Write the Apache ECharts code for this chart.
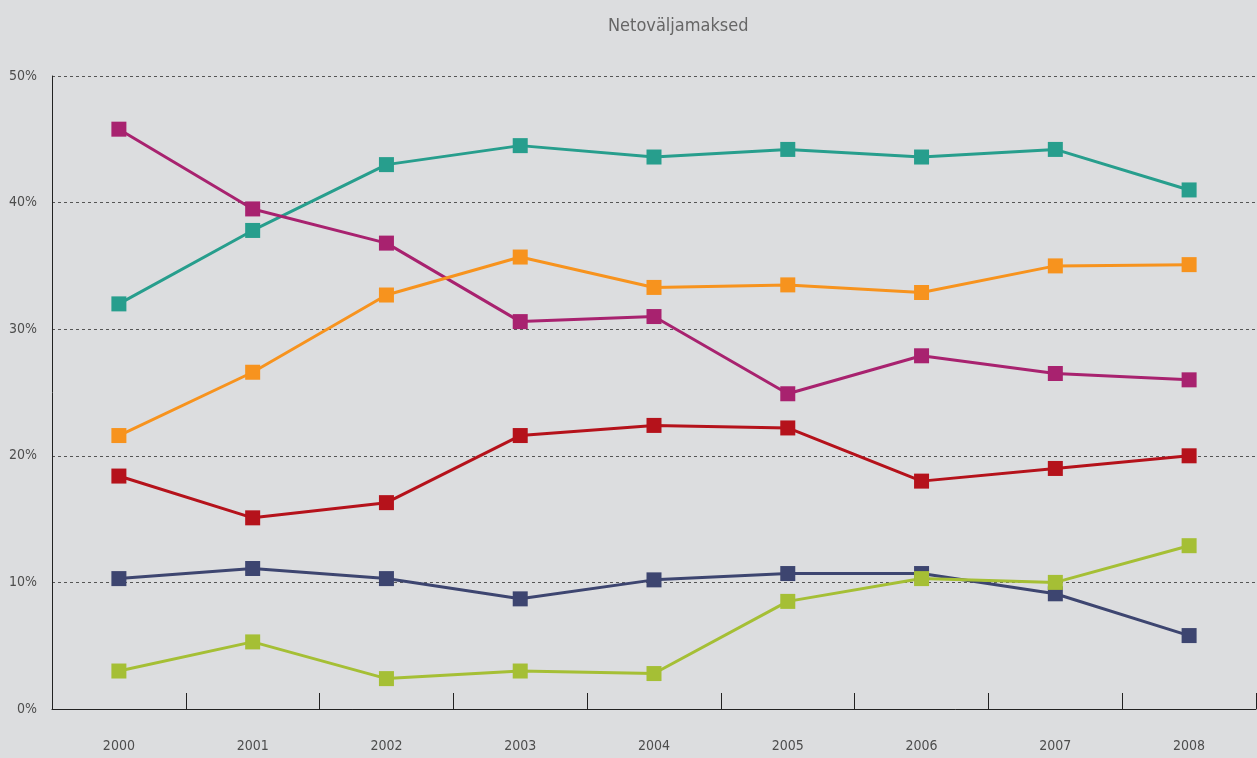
<!DOCTYPE html>
<html>
<head>
    <meta charset="utf-8" />
    <title>Netoväljamaksed</title>
    <script src="https://cdn.jsdelivr.net/npm/echarts@6/dist/echarts.min.js"></script>
    <style>
        html, body { margin: 0; padding: 0; background: #dcdddf; }
    </style>
</head>
<body>
    <div id="main" style="width: 1257px;height:758px;"></div>

    <script type="text/javascript">
        // andmed (loetud pildilt)
        var years = ['2000', '2001', '2002', '2003', '2004', '2005', '2006', '2007', '2008'];
        var teal    = [32.0, 37.8, 43.0, 44.5, 43.6, 44.2, 43.6, 44.2, 41.0];
        var magenta = [45.8, 39.5, 36.8, 30.6, 31.0, 24.9, 27.9, 26.5, 26.0];
        var orange  = [21.6, 26.6, 32.7, 35.7, 33.3, 33.5, 32.9, 35.0, 35.1];
        var red     = [18.4, 15.1, 16.3, 21.6, 22.4, 22.2, 18.0, 19.0, 20.0];
        var navy    = [10.3, 11.1, 10.3, 8.7, 10.2, 10.7, 10.7, 9.1, 5.8];
        var lime    = [3.0, 5.3, 2.4, 3.0, 2.8, 8.5, 10.3, 10.0, 12.9];

        var font = '"DejaVu Sans Condensed", "Liberation Sans Narrow", sans-serif';

        function line(data, color) {
            return {
                type: 'line',
                data: data,
                symbol: 'rect',
                symbolSize: 15,
                lineStyle: { color: color, width: 3 },
                itemStyle: { color: color },
                z: 3
            };
        }

        var myChart = echarts.init(document.getElementById('main'));

        var option = {
            backgroundColor: '#dcdddf',
            animation: false,
            title: {
                text: 'Netoväljamaksed',
                left: 603,
                top: 12,
                textStyle: { fontFamily: font, fontSize: 18, fontWeight: 'normal', color: '#666' }
            },
            grid: { left: 52, right: 1, top: 76, bottom: 49, containLabel: false },
            xAxis: {
                type: 'category',
                data: years,
                boundaryGap: true,
                axisLine: { lineStyle: { color: '#222', width: 1 } },
                axisTick: { show: true, interval: 0, inside: true, length: 16, lineStyle: { color: '#222', width: 1 } },
                axisLabel: { margin: 30, fontFamily: font, fontSize: 14, color: '#4d4d4d' }
            },
            yAxis: {
                type: 'value',
                min: 0,
                max: 50,
                interval: 10,
                axisLine: { show: true, lineStyle: { color: '#222' } },
                axisTick: { show: false },
                axisLabel: { margin: 15, fontFamily: font, fontSize: 14, color: '#4d4d4d', formatter: '{value}%' },
                splitLine: { lineStyle: { color: '#555', type: [3, 3], width: 1 } }
            },
            series: [
                line(teal, '#279e8d'),
                line(magenta, '#a8226f'),
                line(orange, '#f7931e'),
                line(red, '#b5121b'),
                line(navy, '#3d4570'),
                line(lime, '#a5bf35')
            ]
        };

        myChart.setOption(option);
    </script>
</body>
</html>
